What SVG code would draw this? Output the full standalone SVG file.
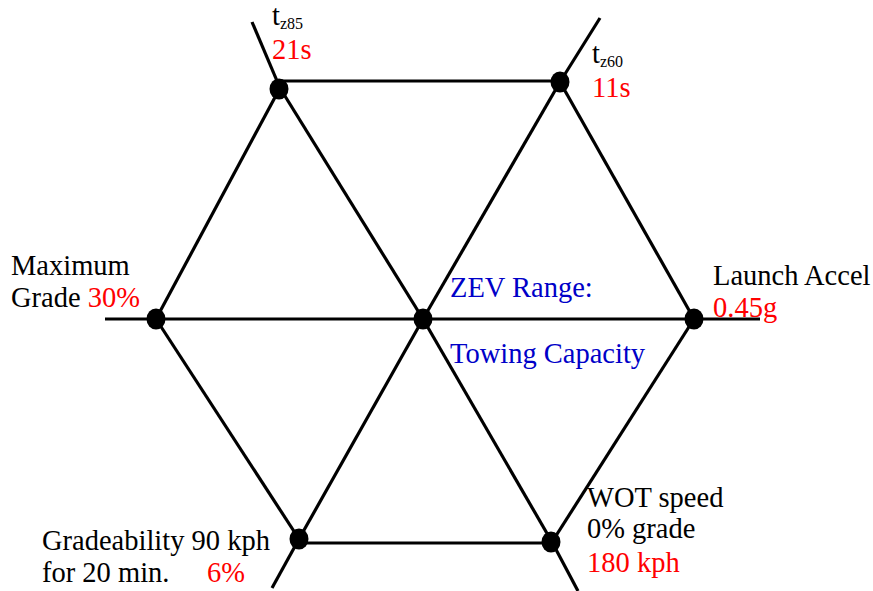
<svg xmlns="http://www.w3.org/2000/svg" width="873" height="591" viewBox="0 0 873 591">
<style>
.ln{stroke:#000;stroke-width:3.2;fill:none;stroke-linecap:butt}
.dot{fill:#000}
text{font-family:"Liberation Serif","Times New Roman",serif;font-size:28.5px;fill:#000}
.r{fill:#ff0000}
.b{fill:#0000c8}
.sub{font-size:16px}
</style>
<rect width="873" height="591" fill="#fff"/>
<g id="connectors">
<line class="ln" x1="105" y1="319" x2="760" y2="319"/>
<line class="ln" x1="252" y1="22" x2="280" y2="88"/>
<line class="ln" x1="280" y1="88" x2="423" y2="319"/>
<line class="ln" x1="423" y1="319" x2="552" y2="542"/>
<line class="ln" x1="552" y1="542" x2="578" y2="591"/>
<line class="ln" x1="600" y1="18" x2="560" y2="82"/>
<line class="ln" x1="560" y1="82" x2="423" y2="319"/>
<line class="ln" x1="423" y1="319" x2="299" y2="539"/>
<line class="ln" x1="299" y1="539" x2="272" y2="588"/>
<line class="ln" x1="280" y1="81" x2="560" y2="81"/>
<line class="ln" x1="560" y1="82" x2="694" y2="319"/>
<line class="ln" x1="694" y1="319" x2="552" y2="542"/>
<line class="ln" x1="552" y1="543" x2="299" y2="543"/>
<line class="ln" x1="299" y1="539" x2="156" y2="319"/>
<line class="ln" x1="156" y1="319" x2="280" y2="88"/>
</g>
<g id="node-tz85">
<ellipse class="dot" cx="279" cy="89" rx="9.5" ry="10.5"/>
<text x="272" y="25">t<tspan class="sub" dy="4">z85</tspan></text>
<text class="r" x="272" y="59">21s</text>
</g>
<g id="node-tz60">
<ellipse class="dot" cx="560" cy="82" rx="9.5" ry="10.5"/>
<text x="592" y="63">t<tspan class="sub" dy="4">z60</tspan></text>
<text class="r" x="592" y="97">11s</text>
</g>
<g id="node-grade">
<ellipse class="dot" cx="156" cy="319" rx="9.5" ry="10.5"/>
<text x="11" y="275">Maximum</text>
<text x="11" y="307">Grade <tspan class="r">30%</tspan></text>
</g>
<g id="node-center">
<ellipse class="dot" cx="423" cy="319" rx="9.5" ry="10.5"/>
<text class="b" x="450" y="297">ZEV Range:</text>
<text class="b" x="450" y="363">Towing Capacity</text>
</g>
<g id="node-launch">
<ellipse class="dot" cx="694" cy="319" rx="9.5" ry="10.5"/>
<text x="713" y="285">Launch Accel</text>
<text class="r" x="713" y="317">0.45g</text>
</g>
<g id="node-gradeability">
<ellipse class="dot" cx="299" cy="539" rx="9.5" ry="10.5"/>
<text x="42" y="550">Gradeability 90 kph</text>
<text x="42" y="582">for 20 min.</text>
<text class="r" x="207" y="582">6%</text>
</g>
<g id="node-wot">
<ellipse class="dot" cx="551" cy="542" rx="9.5" ry="10.5"/>
<text x="587" y="507">WOT speed</text>
<text x="587" y="538">0% grade</text>
<text class="r" x="587" y="572">180 kph</text>
</g>
</svg>
